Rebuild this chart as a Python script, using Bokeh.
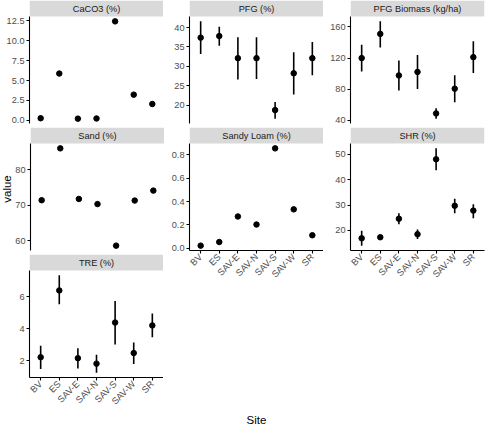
import math
from bokeh.plotting import figure
from bokeh.models import Range1d, FixedTicker, PrintfTickFormatter, BoxAnnotation, Spacer
from bokeh.layouts import row, column
from bokeh.embed import file_html
from bokeh.resources import INLINE
from bokeh.core.properties import value

# ---------------- data ----------------
sites = ["BV", "ES", "SAV-E", "SAV-N", "SAV-S", "SAV-W", "SR"]

caco3_mean = [0.25, 5.88, 0.20, 0.22, 12.45, 3.22, 2.04]
caco3_ticks = [0, 2.5, 5, 7.5, 10, 12.5]

pfg_mean = [37.4, 37.8, 32.1, 32.1, 18.7, 28.2, 32.1]
pfg_lower = [33.2, 35.3, 26.6, 26.7, 16.5, 22.7, 27.7]
pfg_upper = [41.6, 40.2, 37.5, 37.5, 20.8, 33.6, 36.3]
pfg_ticks = [20, 25, 30, 35, 40]

biomass_mean = [119.9, 151.0, 97.6, 102.1, 48.8, 80.6, 121.1]
biomass_lower = [102.6, 133.6, 78.3, 80.3, 42.1, 63.2, 100.9]
biomass_upper = [136.9, 167.1, 116.8, 123.8, 55.4, 98.0, 141.4]
biomass_ticks = [40, 80, 120, 160]

sand_mean = [71.4, 86.0, 71.75, 70.3, 58.6, 71.3, 74.1]
sand_ticks = [60, 70, 80]

loam_mean = [0.022, 0.053, 0.272, 0.203, 0.856, 0.333, 0.111]
loam_ticks = [0.0, 0.2, 0.4, 0.6, 0.8]

shr_mean = [16.9, 17.3, 24.6, 18.5, 48.0, 29.7, 27.8]
shr_lower = [14.0, 16.8, 22.4, 16.6, 43.7, 26.8, 24.8]
shr_upper = [19.9, 17.8, 26.8, 20.4, 52.3, 32.5, 30.3]
shr_ticks = [20, 30, 40, 50]

tre_mean = [2.22, 6.38, 2.16, 1.82, 4.38, 2.48, 4.20]
tre_lower = [1.48, 5.52, 1.52, 1.26, 3.02, 1.80, 3.46]
tre_upper = [2.94, 7.32, 2.78, 2.38, 5.72, 3.14, 4.94]
tre_ticks = [2, 4, 6]

# ---------------- style ----------------
FONT = "Liberation Sans"
STRIP = 16
PANEL = 107
FRAME_W = 134
GAP = 4
XLAB_BORDER = 36
TICK_FS = "9.2px"
xs = list(range(1, len(sites) + 1))


def panel(title, mean, lower, upper, ticks, fmt, left, xaxis=False, right=0):
    vals = list(mean) + list(lower or []) + list(upper or [])
    lo, hi = min(vals), max(vals)
    pad = 0.05 * (hi - lo)
    y0, y1 = lo - pad, hi + pad
    ytop = y1 + (y1 - y0) * STRIP / PANEL
    x0, x1 = 0.4, len(sites) + 0.6
    p = figure(frame_width=FRAME_W, frame_height=STRIP + PANEL,
               x_range=Range1d(x0, x1), y_range=Range1d(y0, ytop),
               output_backend="svg", toolbar_location=None,
               x_axis_location="below" if xaxis else None,
               min_border_left=left, min_border_right=right,
               min_border_top=0, min_border_bottom=XLAB_BORDER if xaxis else GAP)
    p.outline_line_color = None
    p.background_fill_color = "white"
    p.border_fill_color = "white"
    p.xgrid.visible = False
    p.ygrid.visible = False

    strip = BoxAnnotation(bottom=y1, fill_color="#d9d9d9", fill_alpha=1.0,
                          line_color=None, level="underlay")
    p.add_layout(strip)
    p.text(x=[(x0 + x1) / 2], y=[(y1 + ytop) / 2], text=[title],
           text_align="center", text_baseline="middle",
           text_font=value(FONT), text_font_size=TICK_FS, text_color="#1a1a1a")

    ya = p.yaxis[0]
    ya.ticker = FixedTicker(ticks=ticks)
    ya.formatter = PrintfTickFormatter(format=fmt)
    ya.bounds = (y0, y1)
    axes = [ya]
    if xaxis:
        xa = p.xaxis[0]
        xa.ticker = FixedTicker(ticks=xs)
        xa.major_label_overrides = {x: s for x, s in zip(xs, sites)}
        xa.major_label_orientation = math.pi / 4
        axes.append(xa)
    for a in axes:
        a.axis_line_color = "black"
        a.axis_line_width = 1.1
        a.major_tick_line_color = "black"
        a.major_tick_line_width = 1.1
        a.major_tick_out = 3
        a.major_tick_in = 0
        a.minor_tick_line_color = None
        a.major_label_text_font = FONT
        a.major_label_text_font_size = TICK_FS
        a.major_label_text_color = "#4d4d4d"
        a.major_label_standoff = 2

    if lower is not None:
        p.segment(x0=xs, y0=lower, x1=xs, y1=upper, line_color="black", line_width=1.6)
    p.scatter(x=xs, y=mean, size=5.5, fill_color="black", line_color="black")
    return p


f1 = panel("CaCO3 (%)", caco3_mean, None, None, caco3_ticks, "%.1f", 29)
f2 = panel("PFG (%)", pfg_mean, pfg_lower, pfg_upper, pfg_ticks, "%d", 25)
f3 = panel("PFG Biomass (kg/ha)", biomass_mean, biomass_lower, biomass_upper, biomass_ticks, "%d", 27, right=1)
f4 = panel("Sand (%)", sand_mean, None, None, sand_ticks, "%d", 17)
f5 = panel("Sandy Loam (%)", loam_mean, None, None, loam_ticks, "%.1f", 25, xaxis=True)
f6 = panel("SHR (%)", shr_mean, shr_lower, shr_upper, shr_ticks, "%d", 27, xaxis=True, right=1)
f7 = panel("TRE (%)", tre_mean, tre_lower, tre_upper, tre_ticks, "%d", 29, xaxis=True)

# y-axis title
vf = figure(frame_width=12, frame_height=STRIP + PANEL, x_range=Range1d(0, 1), y_range=Range1d(0, 1),
            output_backend="svg", toolbar_location=None, x_axis_location=None, y_axis_location=None,
            min_border_left=0, min_border_right=0, min_border_top=0, min_border_bottom=GAP)
vf.outline_line_color = None
vf.xgrid.visible = False
vf.ygrid.visible = False
vf.text(x=[0.5], y=[0.5], text=["value"], angle=math.pi / 2, text_align="center",
        text_baseline="middle", text_font=value(FONT), text_font_size="11.5px", text_color="black")

# x-axis title
sf = figure(frame_width=454, frame_height=12, x_range=Range1d(0, 1), y_range=Range1d(0, 1),
            output_backend="svg", toolbar_location=None, x_axis_location=None, y_axis_location=None,
            min_border_left=0, min_border_right=0, min_border_top=0, min_border_bottom=0)
sf.outline_line_color = None
sf.xgrid.visible = False
sf.ygrid.visible = False
sf.text(x=[0.5], y=[0.5], text=["Site"], text_align="center", text_baseline="middle",
        text_font=value(FONT), text_font_size="11.5px", text_color="black")

col1 = column(f1, row(vf, f4), f7)
col2 = column(f2, f5)
col3 = column(f3, f6)
layout = column(row(col1, col2, col3), row(Spacer(width=29, height=12), sf))

open("out.html", "w").write(file_html(layout, INLINE))
